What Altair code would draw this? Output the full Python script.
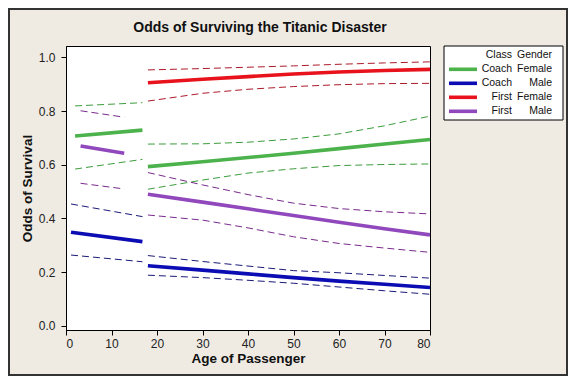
import altair as alt
import pandas as pd

# ---------------- data ----------------
series_names = ["Coach Female", "Coach Male", "First Female", "First Male"]
legend_class = ["Coach", "Coach", "First", "First"]
legend_gender = ["Female", "Male", "Female", "Male"]
title_text = "Odds of Surviving the Titanic Disaster"

fit_colors = ["#4cb24c", "#0c0cb4", "#e8121c", "#9048bc"]
ci_colors = ["#3c9c3c", "#1a1a78", "#ac1a2a", "#7a2a8c"]

adult_ages = [18, 30, 40, 50, 60, 70, 80]

# Coach Female
cf_child_age = [2.0, 16.8]
cf_child_fit = [0.707, 0.729]
cf_child_lo = [0.584, 0.620]
cf_child_hi = [0.819, 0.831]
cf_adult_fit = [0.593, 0.611, 0.627, 0.643, 0.660, 0.677, 0.694]
cf_adult_lo = [0.509, 0.543, 0.569, 0.585, 0.597, 0.601, 0.603]
cf_adult_hi = [0.677, 0.678, 0.684, 0.696, 0.715, 0.745, 0.781]

# Coach Male
cm_child_age = [1.1, 16.8]
cm_child_fit = [0.349, 0.314]
cm_child_lo = [0.264, 0.239]
cm_child_hi = [0.454, 0.407]
cm_adult_fit = [0.224, 0.208, 0.194, 0.180, 0.167, 0.155, 0.143]
cm_adult_lo = [0.189, 0.180, 0.170, 0.159, 0.145, 0.131, 0.118]
cm_adult_hi = [0.262, 0.240, 0.223, 0.206, 0.198, 0.188, 0.178]

# First Female (adults only)
ff_adult_fit = [0.905, 0.918, 0.928, 0.938, 0.945, 0.951, 0.955]
ff_adult_lo = [0.837, 0.866, 0.881, 0.891, 0.898, 0.902, 0.903]
ff_adult_hi = [0.953, 0.958, 0.963, 0.968, 0.974, 0.979, 0.983]

# First Male
fm_child_age = [3.2, 12.8]
fm_child_fit = [0.670, 0.643]
fm_child_lo = [0.531, 0.510]
fm_child_hi = [0.801, 0.777]
fm_adult_fit = [0.490, 0.461, 0.436, 0.411, 0.386, 0.362, 0.339]
fm_adult_lo = [0.413, 0.394, 0.365, 0.332, 0.307, 0.290, 0.274]
fm_adult_hi = [0.571, 0.525, 0.489, 0.457, 0.437, 0.425, 0.417]

segments = [
    ("Coach Female", "child", cf_child_age, cf_child_fit, cf_child_lo, cf_child_hi),
    ("Coach Female", "adult", adult_ages, cf_adult_fit, cf_adult_lo, cf_adult_hi),
    ("Coach Male", "child", cm_child_age, cm_child_fit, cm_child_lo, cm_child_hi),
    ("Coach Male", "adult", adult_ages, cm_adult_fit, cm_adult_lo, cm_adult_hi),
    ("First Female", "adult", adult_ages, ff_adult_fit, ff_adult_lo, ff_adult_hi),
    ("First Male", "child", fm_child_age, fm_child_fit, fm_child_lo, fm_child_hi),
    ("First Male", "adult", adult_ages, fm_adult_fit, fm_adult_lo, fm_adult_hi),
]

fit_rows, ci_rows = [], []
for s, seg, ages, fit, lo, hi in segments:
    for a, v in zip(ages, fit):
        fit_rows.append({"series": s, "seg": seg, "age": a, "p": v})
    for band, vals in (("lo", lo), ("hi", hi)):
        for a, v in zip(ages, vals):
            ci_rows.append({"series": s, "key": f"{s}-{seg}-{band}", "age": a, "p": v})

df_fit = pd.DataFrame(fit_rows)
df_ci = pd.DataFrame(ci_rows)
df_leg = pd.DataFrame({"series": series_names, "cls": legend_class,
                       "gender": legend_gender, "idx": list(range(4))})

FONT = "Liberation Sans"
W, H = 364, 284

x_enc = alt.X("age:Q", scale=alt.Scale(domain=[0, 80], nice=False, zero=False),
              axis=alt.Axis(values=[0, 10, 20, 30, 40, 50, 60, 70, 80],
                            title="Age of Passenger", titleX=182, titleY=32,
                            titleBaseline="alphabetic", labelPadding=3))
y_enc = alt.Y("p:Q", scale=alt.Scale(domain=[-0.015, 1.042], nice=False, zero=False),
              axis=alt.Axis(values=[0, 0.2, 0.4, 0.6, 0.8, 1.0], format=".1f",
                            title="Odds of Survival", titleX=-35, titleY=142,
                            titleBaseline="alphabetic", labelPadding=6))

color_scale = alt.Scale(domain=series_names, range=fit_colors)

ci_layer = alt.Chart(df_ci).mark_line(strokeWidth=1, strokeDash=[7, 4]).encode(
    x=x_enc, y=y_enc,
    stroke=alt.Stroke("series:N", scale=alt.Scale(domain=series_names, range=ci_colors), legend=None),
    detail="key:N",
)
fit_layer = alt.Chart(df_fit).mark_line(strokeWidth=3.6, strokeCap="butt").encode(
    x=x_enc, y=y_enc,
    color=alt.Color("series:N", scale=color_scale, legend=None),
    detail="seg:N",
)
main = alt.layer(ci_layer, fit_layer)

# ---------------- custom legend box (two text columns) + title ----------------
one = alt.Data(values=[{"a": 1}])
box = alt.Chart(one).mark_rect(fill="white", stroke="black", strokeWidth=1).encode(
    x=alt.value(378), x2=alt.value(497), y=alt.value(0), y2=alt.value(74))
leg_base = alt.Chart(df_leg).transform_calculate(ly="23.3 + 14 * datum.idx")
leg_lines = leg_base.mark_rule(strokeWidth=3.6).encode(
    x=alt.value(383), x2=alt.value(411),
    y=alt.Y("ly:Q", scale=None, axis=None),
    color=alt.Color("series:N", scale=color_scale, legend=None))
txt = dict(align="right", baseline="middle", font=FONT, fontSize=10.5, color="#111")
leg_cls = leg_base.mark_text(**txt).encode(
    x=alt.value(446), y=alt.Y("ly:Q", scale=None, axis=None), text="cls:N")
leg_gen = leg_base.mark_text(**txt).encode(
    x=alt.value(486), y=alt.Y("ly:Q", scale=None, axis=None), text="gender:N")
hdr_cls = alt.Chart(one).mark_text(**txt).encode(
    x=alt.value(446), y=alt.value(9.3), text=alt.value("Class"))
hdr_gen = alt.Chart(one).mark_text(**txt).encode(
    x=alt.value(486), y=alt.value(9.3), text=alt.value("Gender"))
title_mark = alt.Chart(one).mark_text(align="center", baseline="alphabetic", font=FONT,
                                      fontSize=14, fontWeight="bold", color="#111").encode(
    x=alt.value(194), y=alt.value(-14), text=alt.value(title_text))
frame = alt.Chart(one).mark_rect(filled=False, stroke="#333", strokeWidth=2).encode(
    x=alt.value(-57), x2=alt.value(W + 137), y=alt.value(-37), y2=alt.value(H + 45))

legend = alt.layer(box, leg_lines, leg_cls, leg_gen, hdr_cls, hdr_gen, title_mark, frame)

chart = alt.layer(main, legend).resolve_scale(x="independent", y="independent").properties(
    width=W, height=H,
    background="#efebe3",
    autosize=alt.AutoSizeParams(type="none"),
    padding={"left": 58, "top": 38, "right": 138, "bottom": 46},
).configure_view(fill="white", stroke="black", strokeWidth=1).configure_axis(
    labelFont=FONT, labelFontSize=12, labelColor="#222", titleFont=FONT,
    titleFontSize=13.5, titleFontWeight="bold", titleColor="#111",
    domainColor="black", tickColor="black", tickSize=5, grid=False,
)

chart.save("out.html", embed_options={"renderer": "svg", "actions": False})
